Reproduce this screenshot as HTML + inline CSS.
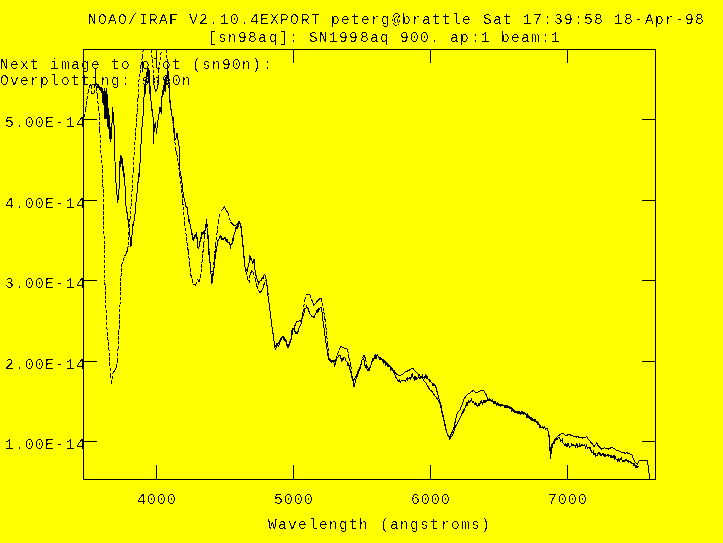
<!DOCTYPE html>
<html lang="en"><head><meta charset="utf-8"><title>NOAO/IRAF splot - sn98aq</title>
<style>
html,body{margin:0;padding:0;background:#ffff00;overflow:hidden}
svg{display:block;will-change:transform}
text{font-family:"Liberation Mono",monospace;font-size:14.6px;fill:#000;white-space:pre}
.ln{fill:none;stroke:#000;stroke-width:1;shape-rendering:crispEdges}
</style></head><body>
<svg width="723" height="543" viewBox="0 0 723 543">
<rect width="723" height="543" fill="#ffff00"/>
<defs><filter id="bw" x="0" y="0" width="100%" height="100%" filterUnits="userSpaceOnUse" color-interpolation-filters="sRGB"><feComponentTransfer><feFuncA type="discrete" tableValues="0 0 0 1 1"/></feComponentTransfer></filter><clipPath id="c"><rect x="83" y="49" width="573" height="431"/></clipPath></defs>

<rect class="ln" x="83.5" y="49.5" width="572.0" height="430.0"/>
<path class="ln" d="M156.5 49.5v13.5M156.5 479.5v-14.5M293.5 49.5v13.5M293.5 479.5v-14.5M430.5 49.5v13.5M430.5 479.5v-14.5M567.5 49.5v13.5M567.5 479.5v-14.5M83.5 119.5h13.5M655.5 119.5h-13.5M83.5 200.5h13.5M655.5 200.5h-13.5M83.5 280.5h13.5M655.5 280.5h-13.5M83.5 361.5h13.5M655.5 361.5h-13.5M83.5 441.5h13.5M655.5 441.5h-13.5"/>
<g clip-path="url(#c)">
<path class="ln" stroke-dasharray="3.3 1.6" d="M84.0 117.1L85.7 109.4M85.7 109.4L86.9 99.3M86.9 99.3L88.1 92.2M88.1 92.2L89.0 87.8M91.3 86.1L91.5 93.1M94.4 93.1L94.6 85.9M96.4 87.5L97.3 96.1M97.3 96.1L98.5 107.6M98.5 107.6L99.4 116.7M99.4 116.7L99.9 130.0M99.9 130.0L100.6 149.9M100.6 149.9L102.4 169.7M102.4 169.7L103.7 206.6M103.7 206.6L104.1 245.3M104.1 245.3L104.9 281.5M104.9 281.5L105.6 300.1M105.6 300.1L106.4 317.0M106.4 317.0L107.2 332.6M107.2 332.6L108.9 347.7M108.9 347.7L109.7 363.1M109.7 363.1L110.6 374.7M110.6 374.7L111.7 383.9M111.7 383.9L113.0 373.3M116.4 367.8L117.5 361.2M117.5 361.2L118.0 349.3M118.0 349.3L118.9 333.4M118.9 333.4L119.4 316.9M119.4 316.9L120.0 305.2M120.0 305.2L120.6 281.5M120.6 281.5L121.8 264.9M121.8 264.9L123.3 260.5M123.3 260.5L124.8 256.0M127.8 249.7L129.0 231.7M129.0 231.7L130.0 219.1M130.0 219.1L131.0 206.7M131.0 206.7L132.2 188.0M132.2 188.0L133.3 169.8M133.3 169.8L134.4 150.2M134.4 150.2L135.6 131.5M135.6 131.5L136.9 116.6M136.9 116.6L137.5 100.2M138.2 96.8L138.8 82.1M138.8 82.1L139.9 73.4M139.9 73.4L141.0 65.3M141.0 65.3L142.2 57.3M142.2 57.3L143.3 49.3M143.3 49.3L143.3 30.1M151.0 29.7L151.3 49.7M151.3 49.7L152.3 60.2M152.3 60.2L153.3 70.2M153.3 70.2L154.5 87.8M157.6 87.8L158.6 69.7M158.6 69.7L160.1 60.2M160.1 60.2L161.5 49.6M161.5 49.6L161.5 30.2M166.5 30.3L166.5 49.7M166.5 49.7L168.0 75.4M168.0 75.4L169.5 94.9M169.5 94.9L171.3 110.2M171.3 110.2L172.2 117.6M172.2 117.6L173.2 124.8M173.2 124.8L174.4 137.2M174.4 137.2L175.7 150.1M176.6 153.4L177.6 158.0M177.6 158.0L178.8 167.6M178.8 167.6L179.9 176.0M179.9 176.0L181.0 184.6M181.0 184.6L182.8 201.9M182.8 201.9L184.5 222.8M184.5 222.8L185.8 232.6M185.8 232.6L187.0 242.5M187.0 242.5L188.3 251.5M188.3 251.5L189.6 263.5M189.6 263.5L190.8 274.7M190.8 274.7L192.1 279.7M192.1 279.7L193.3 284.7M195.8 285.1L197.5 279.4M199.0 282.3L200.7 277.3M200.7 277.3L202.0 262.4M202.0 262.4L203.7 244.3M203.7 244.3L204.7 236.2M204.7 236.2L205.7 227.4M205.7 227.4L206.5 218.9M206.5 218.9L208.2 236.6M208.2 236.6L209.5 256.7M209.5 256.7L210.7 269.2M210.7 269.2L212.0 276.5M212.0 276.5L213.2 269.9M213.2 269.9L214.4 257.5M214.4 257.5L215.7 244.8M215.7 244.8L216.9 233.7M216.9 233.7L218.2 222.1M218.2 222.1L219.4 216.8M219.4 216.8L220.7 211.6M228.0 213.1L229.3 217.6M229.3 217.6L230.6 221.8M241.0 225.5L242.0 235.3M242.0 235.3L243.0 244.6M243.0 244.6L244.0 258.3M244.0 258.3L245.8 271.4M245.8 271.4L247.5 278.2M247.5 278.2L249.0 283.0M249.0 283.0L250.0 274.7M253.3 272.0L255.0 278.3M255.0 278.3L256.6 285.4M256.6 285.4L258.3 290.2M264.0 284.5L265.7 280.0M265.7 280.0L267.4 286.5M267.4 286.5L269.0 303.3M269.0 303.3L270.2 312.7M270.2 312.7L271.5 323.0M271.5 323.0L272.9 332.8M272.9 332.8L274.4 343.3M291.0 340.1L292.2 334.9M292.2 334.9L293.5 329.9M301.0 321.3L302.7 314.8M303.0 311.8L304.7 299.8M304.7 299.8L306.4 294.7M309.7 294.5L311.4 299.0M321.0 298.3L322.2 303.2M322.2 303.2L323.8 311.6M323.8 311.6L324.9 318.7M324.9 318.7L325.9 326.5M325.9 326.5L327.6 343.3M327.6 343.3L328.4 353.1M328.4 353.1L329.2 358.6M335.9 359.6L337.5 354.2M337.5 354.2L339.2 349.3M347.5 349.5L349.0 357.8M349.0 357.8L350.8 366.1M350.8 366.1L352.5 376.9M352.5 376.9L353.6 381.6M353.6 381.6L355.0 377.6M360.0 366.9L361.2 362.5M361.2 362.5L362.4 358.2M365.7 358.7L366.9 366.5M370.7 366.3L372.4 361.0"/>
<path class="ln" d="M89.0 87.8L90.3 84.5L91.3 86.1M91.5 93.1L93.0 93.4L94.4 93.1M94.6 85.9L95.5 84.9L96.4 87.5M113.0 373.3L114.7 370.2L116.4 367.8M124.8 256.0L126.3 253.1L127.8 249.7M137.5 100.2L138.2 96.8M143.3 30.1L144.6 30.5L145.9 29.7L147.2 30.4L148.4 29.5L149.7 29.8L151.0 29.7M154.5 87.8L156.0 91.4L157.6 87.8M161.5 30.2L162.8 30.2L164.0 30.5L165.2 30.0L166.5 30.3M175.7 150.1L176.6 153.4M193.3 284.7L194.6 284.3L195.8 285.1M197.5 279.4L199.0 282.3M220.7 211.6L221.9 209.9L223.2 208.9L224.4 206.7L225.6 209.0L226.8 211.3L228.0 213.1M230.6 221.8L231.9 223.5L233.1 224.5L234.4 225.8L235.7 225.5L237.0 224.0L238.2 223.4L239.4 222.1L241.0 225.5M250.0 274.7L251.6 271.1L253.3 272.0M258.3 290.2L260.0 292.7L261.6 291.0L262.8 288.3L264.0 284.5M274.4 343.3L276.0 347.1L277.3 345.6L278.6 342.8L279.8 340.2L281.0 338.2L282.3 337.2L283.6 336.1L284.8 339.4L286.0 341.6L287.2 344.5L288.5 346.7L289.8 343.5L291.0 340.1M293.5 329.9L294.8 326.1L296.0 322.8L297.2 321.2L298.5 321.2L299.8 320.7L301.0 321.3M302.7 314.8L303.0 311.8M306.4 294.7L308.0 293.9L309.7 294.5M311.4 299.0L312.6 301.9L313.9 305.1L315.1 303.8L316.3 302.4L317.6 300.9L318.8 299.6L319.9 298.6L321.0 298.3M329.2 358.6L330.4 359.8L331.7 361.0L332.9 360.8L334.2 361.2L335.9 359.6M339.2 349.3L340.8 346.2L342.1 346.9L343.3 347.7L344.6 348.1L345.8 348.5L347.5 349.5M355.0 377.6L356.2 376.0L357.5 372.6L358.8 369.6L360.0 366.9M362.4 358.2L364.0 355.5L365.7 358.7M366.9 366.5L367.9 367.7L369.0 369.5L370.7 366.3M372.4 361.0L373.6 359.6L374.9 358.3L376.1 356.6L377.4 354.8L378.6 356.5L379.8 358.0L381.1 358.1L382.4 359.1L383.6 360.2L384.9 361.7L386.1 363.2L387.4 363.9L388.6 364.8L389.9 365.7L391.1 367.2L392.4 368.7L393.5 370.6L394.6 372.0L395.7 373.3L396.8 374.1L397.9 375.1L399.0 375.8L400.1 375.5L401.2 375.0L402.3 374.6L403.4 373.8L404.5 372.2L405.6 371.4L407.0 371.2L408.4 370.6L409.8 369.9L410.9 369.1L411.9 368.9L413.0 368.5L414.3 370.1L415.6 371.4L416.7 372.8L417.9 374.1L419.0 374.5L420.1 376.0L421.1 377.2L422.2 377.9L423.3 379.7L424.5 381.8L425.6 382.5L426.7 384.7L427.8 386.0L428.9 388.3L430.0 389.8L431.1 390.8L432.2 391.8L433.3 393.7L434.4 395.0L435.5 396.6L436.8 398.1L438.0 399.8L439.2 402.5L440.5 404.7L441.4 409.7L442.4 415.2L443.7 419.9L445.0 425.8L446.2 429.6L447.4 434.2L448.5 435.2L449.6 437.7L450.6 435.4L451.6 433.5L452.8 430.4L454.0 427.2L455.7 419.3L457.4 412.9L458.6 411.3L459.9 410.0L461.1 407.1L462.4 404.5L464.0 398.7L465.2 397.2L466.5 395.3L467.6 394.4L468.7 393.5L469.8 393.5L470.9 392.3L472.1 391.2L473.2 390.3L474.3 391.5L475.4 392.1L476.5 392.5L477.8 392.0L479.0 391.7L480.2 390.6L481.5 390.7L482.8 390.3L484.0 390.8L485.2 393.1L486.4 395.2L488.0 399.9L489.2 400.0L490.5 400.5L491.8 400.4L493.0 401.3L494.1 401.7L495.3 403.0L496.4 403.3L497.5 403.7L498.6 403.9L499.7 404.3L500.8 404.4L501.9 404.4L503.0 405.4L504.1 405.2L505.2 405.5L506.3 405.8L507.4 406.5L508.6 406.9L509.7 407.6L510.8 408.3L511.9 408.6L513.0 409.7L514.2 410.9L515.5 411.4L516.6 412.1L517.7 412.2L518.8 412.1L519.9 411.7L520.9 412.6L522.0 412.6L523.1 412.3L524.3 412.7L525.4 414.0L526.7 414.9L528.0 415.8L529.1 416.4L530.1 417.3L531.2 418.2L532.3 419.3L533.5 419.4L534.6 419.8L535.7 421.3L536.8 422.0L537.9 422.2L539.0 424.3L540.1 425.5L541.2 427.1L542.3 427.2L543.4 427.7L544.5 427.8L545.6 428.4L546.7 428.4L547.8 429.5L549.2 436.4L550.3 450.2L551.0 452.9L552.6 445.2L553.8 442.4L555.0 439.6L556.3 437.9L557.6 436.1L558.7 435.7L559.8 434.4L560.9 434.0L562.1 433.2L563.4 433.2L564.6 434.4L565.9 435.7L567.0 435.7L568.1 434.4L569.2 434.8L570.3 434.9L571.4 435.4L572.5 435.9L573.6 436.3L574.7 436.1L575.8 436.4L576.9 437.2L578.1 436.6L579.2 437.4L580.3 437.7L581.4 437.3L582.5 438.1L583.9 437.7L585.2 437.4L586.6 436.3L587.8 438.6L589.0 439.8L590.3 441.4L591.6 443.4L592.8 444.3L594.0 446.7L595.3 444.9L596.6 442.8L597.8 445.1L599.0 446.4L600.3 447.7L601.6 449.0L602.7 448.9L603.8 448.0L604.9 447.9L606.0 448.3L607.1 448.7L608.2 449.3L609.3 448.2L610.4 448.2L611.5 447.2L612.6 447.9L613.7 448.2L614.8 449.0L615.9 450.0L617.1 450.2L618.2 450.9L619.3 451.0L620.4 451.6L621.5 452.1L622.9 452.6L624.2 452.9L625.6 453.3L627.0 452.7L628.4 453.5L629.8 453.8L630.9 454.5L632.0 455.1L633.0 457.9L633.9 460.1L635.6 462.7L637.2 464.3L638.2 462.4L639.2 460.8L640.7 460.6L642.2 460.4L643.3 460.2L644.4 460.3L645.5 460.3L646.5 460.6L647.5 460.7L648.5 468.2L649.7 478.7"/>
<polyline class="ln" points="95.0,84.0 95.3,68.0 95.8,81.7 96.4,84.4 97.0,84.5 97.5,87.5 98.0,85.3 98.5,88.1 99.0,85.8 99.5,89.7 100.0,86.7 100.5,90.9 101.0,87.4 101.5,93.1 102.0,87.3 102.5,102.9 103.0,91.0 103.6,105.3 104.1,88.5 104.6,119.4 105.2,91.4 105.7,118.9 106.2,88.3 106.7,119.0 107.2,94.0 107.8,126.5 108.3,107.9 108.8,128.5 109.3,115.2 109.8,139.4 110.2,127.3 110.6,141.7 111.0,139.7 111.4,133.0 111.8,129.0 112.2,117.8 112.7,107.1 113.2,114.6 113.8,123.0 114.3,128.1 114.5,150.4 115.0,161.4 115.4,174.4 115.9,180.3 116.4,189.7 116.8,192.6 117.3,197.6 117.8,202.5 118.3,197.1 118.8,194.2 119.3,182.4 119.6,174.1 120.0,161.1 120.4,166.8 121.0,155.5 121.6,163.9 122.2,157.9 122.8,171.0 123.3,166.4 123.8,176.9 124.2,173.1 124.6,182.2 125.1,186.5 125.5,199.6 126.0,206.0 126.5,212.6 127.0,212.3 127.5,220.1 128.0,218.7 128.5,227.0 129.0,227.5 129.5,235.8 130.0,237.0 130.5,246.5 131.0,246.0 131.4,245.9 131.9,235.2 132.4,234.0 132.8,224.5 133.3,226.2 133.8,223.5 134.3,218.4 134.8,215.6 135.3,211.1 135.8,202.5 136.3,201.1 136.8,193.6 137.3,191.8 137.8,182.7 138.2,182.6 138.7,174.5 139.1,175.1 139.6,164.3 140.1,162.5 140.6,146.4 141.0,144.4 141.5,132.9 141.9,129.2 142.4,121.0 143.0,116.7 143.4,102.5 143.8,100.8 144.2,93.7 144.6,95.5 145.1,83.0 145.6,94.1 146.1,76.5 146.6,83.2 147.1,70.1 147.5,77.1 148.0,68.1 148.7,82.5 149.1,69.8 149.5,93.6 149.9,80.8 150.3,98.8 150.7,96.6 151.3,104.3 151.9,109.9 152.3,109.7 152.8,116.7 153.2,117.4 153.5,144.4 153.9,134.3 154.4,125.7 154.8,125.0 155.3,123.5 155.7,121.7 156.3,134.4 156.8,129.8 157.3,125.2 157.8,122.3 158.3,118.1 158.8,115.3 159.4,111.9 160.0,107.5 160.4,109.9 160.9,111.3 161.3,113.6 161.5,100.4 162.0,95.7 162.5,97.3 163.0,89.9 163.5,95.0 164.0,85.4 164.5,91.0 165.0,78.8 165.5,92.0 166.0,76.8 166.5,85.3 167.0,74.8 167.5,78.6 168.0,71.3 168.5,73.6 169.2,84.6 169.6,96.1 170.2,106.3 170.7,107.9 171.3,111.6 171.8,114.8 172.2,117.1 172.7,119.9 173.2,117.0 173.8,129.6 174.4,128.1 175.0,140.2 175.5,138.3 176.0,137.8 176.5,134.8 177.0,133.4 177.6,134.7 178.2,142.4 178.8,139.6 179.4,157.0 180.0,171.0 180.5,175.3 181.0,176.2 181.5,181.6 182.0,183.0 182.4,188.3 182.9,190.9 183.3,194.0 183.8,196.9 184.3,199.3 184.8,201.0 185.3,202.8 185.9,206.2 186.4,206.7 187.0,207.4 187.5,210.2 188.1,216.2 188.6,220.8 189.2,220.0 189.7,221.7 190.2,225.8 190.8,227.2 191.4,231.5 192.0,234.4 192.4,233.0 192.9,240.3 193.3,237.0 193.8,240.7 194.3,235.4 194.8,239.3 195.3,234.5 195.8,237.0 196.4,232.5 197.0,238.6 197.4,238.1 197.9,247.1 198.3,248.3 198.9,248.9 199.4,241.3 199.8,244.5 200.3,237.9 200.7,241.5 201.1,236.2 201.6,239.3 202.0,232.2 202.6,234.7 203.2,230.7 203.8,233.8 204.4,230.2 204.8,233.3 205.3,227.7 205.7,229.9 206.1,222.6 206.5,225.8 207.1,228.8 207.6,232.4 208.3,242.8 208.9,254.1 209.5,259.9 210.0,263.3 210.5,267.4 211.0,274.1 211.5,277.0 212.0,283.5 212.4,277.5 212.9,276.2 213.3,273.8 213.9,268.6 214.4,265.4 214.9,259.8 215.4,256.2 216.0,252.1 216.5,249.0 217.0,245.8 217.5,242.5 218.0,239.7 218.4,240.6 218.9,239.9 219.4,236.0 219.9,238.9 220.4,236.4 220.9,235.6 221.5,237.4 222.0,239.9 222.5,238.5 223.0,238.6 223.5,238.9 224.0,239.4 224.5,238.4 225.0,237.1 225.5,240.5 226.0,239.0 226.5,240.2 227.0,238.9 227.5,241.5 228.0,242.6 228.5,242.4 229.1,242.7 229.6,244.1 230.1,244.8 230.6,248.9 231.1,243.0 231.6,244.3 232.0,243.8 232.5,239.1 233.0,239.8 233.5,240.4 234.0,235.1 234.6,234.5 235.1,231.5 235.6,228.0 236.1,226.7 236.6,227.0 237.0,228.7 237.5,224.2 238.0,226.9 238.5,220.8 239.0,222.6 239.5,223.7 240.0,223.5 240.4,223.5 240.9,227.3 241.3,230.1 241.9,235.1 242.4,241.4 243.0,247.0 243.5,252.4 244.0,255.8 244.5,259.7 245.0,267.2 245.5,267.8 246.1,269.4 246.6,269.2 247.1,271.8 247.6,270.3 248.0,266.8 248.5,263.4 249.0,263.2 249.4,260.1 249.9,255.4 250.4,258.9 250.8,258.0 251.3,258.6 251.9,259.5 252.4,264.1 252.9,261.6 253.5,262.0 254.0,258.9 254.4,266.2 254.9,269.6 255.4,271.5 255.8,274.7 256.3,276.6 256.8,276.8 257.3,281.5 257.8,280.3 258.3,282.4 258.8,285.0 259.3,281.4 259.7,282.2 260.2,280.9 260.7,280.7 261.2,280.3 261.7,279.3 262.2,277.1 262.7,278.4 263.2,277.6 263.6,278.0 264.1,274.1 264.6,274.6 265.0,274.6 265.5,278.2 266.1,279.4 266.6,282.9 267.1,286.6 267.6,292.3 268.0,295.5 268.5,298.7 269.0,303.2 269.5,308.2 270.0,310.5 270.5,315.1 271.0,318.6 271.5,323.2 272.0,326.5 272.6,331.2 273.1,333.4 273.6,337.2 274.2,343.1 274.7,346.7 275.3,349.4 275.9,348.5 276.4,346.4 277.0,343.0 277.5,344.5 278.1,345.0 278.6,346.1 279.2,344.4 279.7,343.5 280.3,339.9 280.8,341.8 281.3,338.3 281.7,339.2 282.2,337.2 282.7,336.8 283.2,337.7 283.7,337.8 284.2,340.9 284.7,339.9 285.2,339.9 285.7,341.4 286.2,339.6 286.7,344.2 287.2,346.7 287.7,347.2 288.3,343.7 288.8,345.2 289.4,344.7 289.9,341.7 290.5,339.7 291.0,340.6 291.4,337.4 291.9,331.5 292.4,332.2 292.9,328.5 293.4,329.0 293.9,328.3 294.4,328.7 295.0,331.5 295.6,333.4 296.1,333.3 296.6,332.6 297.2,331.3 297.7,332.8 298.2,331.8 298.7,331.8 299.2,326.4 299.7,327.2 300.2,325.8 300.7,324.6 301.2,323.5 301.7,320.0 302.2,318.8 302.7,315.8 303.2,315.2 303.7,315.8 304.2,310.8 304.7,309.0 305.3,308.4 305.8,308.4 306.4,306.2 306.9,307.2 307.5,308.2 308.0,308.1 308.6,311.5 309.1,311.6 309.7,314.0 310.2,314.4 310.7,315.0 311.2,315.4 311.7,316.4 312.2,316.1 312.7,316.4 313.2,317.0 313.7,316.0 314.2,315.9 314.7,317.0 315.2,313.0 315.7,313.6 316.2,312.1 316.7,310.8 317.2,312.2 317.7,309.8 318.2,308.3 318.7,311.6 319.2,309.1 319.7,308.7 320.2,307.1 320.8,307.1 321.3,308.3 321.7,309.3 322.2,313.5 322.6,317.2 323.1,322.2 323.7,325.6 324.2,329.2 324.8,334.2 325.3,339.3 325.9,341.9 326.5,346.8 327.0,348.8 327.6,353.9 328.0,355.7 328.4,359.6 328.9,359.6 329.4,360.9 329.9,360.9 330.4,360.9 330.9,361.8 331.4,362.3 331.9,360.8 332.4,361.1 332.9,361.2 333.4,361.9 333.9,362.2 334.5,365.6 335.0,364.8 335.6,363.1 336.1,360.4 336.7,358.5 337.2,357.8 337.8,357.8 338.3,355.4 338.9,355.1 339.4,355.7 340.0,355.5 340.6,358.4 341.1,358.8 341.7,361.2 342.2,360.5 342.7,358.9 343.2,358.0 343.7,359.1 344.2,357.4 344.7,357.3 345.2,358.4 345.6,359.2 346.1,361.2 346.6,361.7 347.1,362.1 347.6,364.3 348.0,363.1 348.5,365.2 349.0,365.1 349.4,366.9 349.9,368.8 350.4,372.1 350.8,372.6 351.4,374.2 351.9,377.2 352.5,380.5 353.0,380.8 353.5,383.7 354.0,386.6 354.4,385.1 354.9,383.2 355.4,382.9 355.8,379.8 356.3,378.3 356.8,375.7 357.3,376.0 357.8,375.1 358.3,372.8 358.8,371.6 359.3,370.9 359.8,369.5 360.3,367.6 360.8,366.1 361.3,364.0 361.9,360.2 362.4,359.5 362.9,359.9 363.3,359.2 363.9,358.7 364.4,363.0 365.0,365.5 365.5,365.9 366.0,368.2 366.5,367.5 367.0,369.1 367.5,369.8 368.0,369.1 368.5,370.5 369.0,370.5 369.4,369.9 369.9,367.8 370.4,367.6 370.8,365.7 371.3,363.7 371.9,361.8 372.4,358.2 372.9,361.1 373.4,360.7 374.0,358.3 374.5,356.2 375.0,357.7 375.5,358.5 376.0,354.4 376.4,359.1 376.9,355.3 377.4,355.2 377.9,355.6 378.4,357.4 379.0,358.2 379.5,358.5 380.0,359.4 380.5,358.4 381.0,360.1 381.4,359.2 381.9,359.6 382.4,361.2 382.9,360.8 383.4,361.9 383.9,363.6 384.4,361.3 384.9,363.0 385.4,361.5 385.9,365.6 386.4,362.6 386.9,362.8 387.4,364.4 387.9,366.9 388.4,366.1 388.9,364.1 389.4,366.7 389.9,366.0 390.4,366.5 390.9,370.2 391.4,369.2 391.9,370.0 392.4,370.7 392.9,370.3 393.4,372.5 393.9,372.6 394.4,371.5 394.9,374.7 395.4,377.1 395.9,376.4 396.3,378.9 396.8,378.4 397.3,380.1 397.8,380.3 398.3,380.6 398.8,381.2 399.3,379.9 399.8,381.0 400.3,382.4 400.8,381.3 401.3,380.1 401.8,380.3 402.3,380.3 402.8,380.7 403.3,380.6 403.8,380.8 404.3,380.8 404.8,380.5 405.3,381.4 405.8,381.1 406.3,378.7 406.8,378.5 407.3,379.5 407.8,377.9 408.3,378.5 408.8,378.2 409.3,378.5 409.8,377.6 410.3,379.8 410.8,377.8 411.3,377.4 411.8,374.7 412.3,374.0 412.9,376.6 413.4,378.0 414.0,378.0 414.5,379.3 415.0,375.9 415.4,379.5 415.9,380.1 416.4,377.2 416.9,379.1 417.4,378.6 418.0,377.8 418.5,376.0 419.0,376.6 419.5,377.9 420.0,378.5 420.4,377.1 420.9,378.6 421.4,375.6 421.9,378.4 422.4,374.5 423.0,377.0 423.5,377.7 424.0,378.0 424.5,378.5 425.0,376.5 425.4,375.4 425.9,377.6 426.4,376.5 426.9,378.5 427.4,377.5 427.9,378.8 428.4,379.3 428.9,380.0 429.4,379.5 429.9,382.2 430.4,380.5 430.9,381.6 431.4,382.8 431.9,382.6 432.4,384.5 432.9,383.2 433.4,383.2 433.9,385.2 434.4,385.2 434.9,384.5 435.3,385.5 435.8,386.8 436.3,388.5 436.9,391.0 437.4,393.4 438.0,394.9 438.6,398.5 439.1,398.9 439.7,400.4 440.2,402.6 440.8,404.7 441.3,406.3 441.8,410.4 442.3,411.2 442.8,413.4 443.3,417.2 443.8,418.9 444.3,420.8 444.8,422.8 445.3,425.7 445.8,428.9 446.3,430.6 446.9,432.3 447.4,435.3 447.9,435.6 448.4,435.3 449.0,437.4 449.5,438.0 450.0,439.5 450.5,437.6 451.0,436.2 451.4,436.6 451.9,437.0 452.4,434.3 452.9,434.4 453.4,432.1 453.9,431.1 454.4,429.4 454.9,427.5 455.4,427.7 455.9,425.8 456.4,425.2 456.9,424.4 457.4,422.2 457.9,422.5 458.4,421.3 458.9,419.9 459.4,418.7 459.9,418.3 460.4,417.4 460.9,415.9 461.4,415.2 461.9,414.1 462.4,411.8 462.9,413.0 463.4,412.0 463.9,409.1 464.4,411.0 464.9,408.0 465.4,406.1 466.0,405.4 466.5,404.8 467.0,402.3 467.5,404.4 468.0,403.0 468.5,401.8 469.0,403.1 469.6,401.2 470.1,401.3 470.7,400.8 471.2,400.1 471.7,398.6 472.2,402.5 472.7,402.5 473.2,402.7 473.7,401.8 474.2,403.4 474.6,404.1 475.1,402.3 475.6,404.6 476.1,405.2 476.6,404.2 477.0,405.6 477.5,406.2 478.0,405.4 478.5,403.6 479.0,406.0 479.6,404.7 480.1,403.2 480.6,403.0 481.1,400.8 481.6,402.3 482.0,401.9 482.5,403.5 483.0,402.3 483.5,401.3 484.0,402.8 484.5,401.8 484.9,400.6 485.4,400.6 485.9,403.0 486.4,400.2 486.9,400.2 487.4,400.5 487.9,399.9 488.3,400.7 488.8,400.8 489.3,400.8 489.8,398.7 490.3,399.4 490.9,399.4 491.4,401.7 491.9,401.3 492.5,399.2 493.0,401.9 493.5,402.7 494.0,402.0 494.5,402.6 494.9,403.9 495.4,401.2 495.9,403.7 496.4,404.7 496.9,405.6 497.3,404.1 497.8,402.7 498.3,404.7 498.8,403.4 499.2,404.4 499.7,405.6 500.2,404.0 500.6,406.3 501.1,405.8 501.6,405.6 502.1,405.5 502.5,404.9 503.0,405.9 503.5,405.9 503.9,405.2 504.4,405.8 504.9,408.0 505.4,406.0 505.8,407.1 506.3,406.4 506.8,407.1 507.3,407.1 507.8,405.7 508.2,407.4 508.7,407.0 509.2,408.0 509.7,406.9 510.2,408.9 510.6,407.8 511.1,407.4 511.6,409.8 512.1,408.2 512.5,410.8 513.0,411.0 513.5,410.0 514.0,411.9 514.5,410.3 515.0,412.9 515.5,412.5 516.0,412.9 516.4,412.3 516.9,412.8 517.4,413.2 517.9,411.5 518.3,411.9 518.8,413.1 519.3,413.5 519.9,412.5 520.4,412.8 520.9,414.4 521.5,411.3 522.0,410.8 522.5,414.0 523.0,413.9 523.5,414.2 523.9,412.0 524.4,413.9 524.9,413.7 525.4,413.9 525.9,414.9 526.4,415.9 527.0,417.7 527.5,414.2 528.0,415.5 528.5,415.7 529.1,418.6 529.6,417.1 530.1,418.4 530.7,419.0 531.2,416.9 531.7,420.2 532.2,420.2 532.7,419.2 533.1,419.5 533.6,419.8 534.1,420.7 534.6,420.8 535.1,421.6 535.5,420.2 536.0,420.9 536.5,422.0 537.0,422.4 537.4,422.0 537.9,424.2 538.4,423.9 538.8,424.9 539.3,425.3 539.8,427.0 540.3,425.8 540.7,426.6 541.2,428.0 541.7,427.9 542.1,426.3 542.6,427.2 543.1,428.2 543.6,428.1 544.0,427.6 544.5,427.1 545.0,428.1 545.4,429.2 545.9,429.5 546.4,428.8 546.9,428.6 547.3,429.3 547.8,428.6 548.4,433.9 549.0,437.3 549.6,444.8 550.1,452.0 550.6,459.3 551.2,451.9 551.8,444.9 552.3,445.0 552.9,443.0 553.4,443.5 553.9,441.4 554.4,442.6 555.0,440.3 555.5,440.5 556.0,440.0 556.5,438.0 557.0,438.6 557.4,439.1 557.9,438.1 558.4,437.3 558.9,437.6 559.4,438.1 559.9,439.1 560.4,439.2 560.9,441.1 561.4,440.9 561.9,440.8 562.4,439.8 562.9,442.5 563.4,443.7 563.9,443.1 564.3,445.3 564.8,445.6 565.3,445.3 565.8,444.1 566.2,446.9 566.7,445.6 567.2,443.1 567.6,446.5 568.1,443.7 568.6,443.9 569.1,446.4 569.5,447.1 570.0,445.8 570.5,446.6 570.9,446.5 571.4,443.6 571.9,445.5 572.4,445.7 572.8,443.9 573.3,445.6 573.8,444.5 574.3,445.4 574.8,445.2 575.2,447.0 575.7,445.6 576.2,445.3 576.7,443.9 577.2,444.9 577.6,447.6 578.1,446.1 578.6,446.7 579.1,446.6 579.5,444.2 580.0,445.1 580.5,445.2 580.9,446.7 581.4,444.6 581.9,445.0 582.4,445.0 582.8,444.6 583.3,445.4 583.8,445.8 584.2,444.9 584.7,445.1 585.2,446.3 585.7,448.1 586.1,446.6 586.6,445.3 587.1,447.2 587.6,448.0 588.1,447.6 588.5,447.7 589.0,447.1 589.5,448.0 590.0,446.8 590.5,449.1 591.0,450.8 591.4,450.4 591.9,452.2 592.4,452.3 592.9,452.3 593.4,451.5 594.0,454.6 594.5,454.5 595.0,452.9 595.5,456.3 596.1,455.6 596.6,455.5 597.1,455.4 597.7,453.3 598.2,453.3 598.7,452.5 599.2,454.5 599.7,453.3 600.1,455.9 600.6,453.1 601.1,454.8 601.6,455.6 602.1,454.4 602.5,453.8 603.0,452.9 603.5,455.5 604.0,455.2 604.4,455.9 604.9,453.7 605.4,456.1 605.8,455.0 606.3,455.3 606.8,455.1 607.3,454.2 607.7,454.6 608.2,456.1 608.7,454.9 609.1,455.5 609.6,455.8 610.1,456.3 610.6,457.4 611.0,455.5 611.5,456.9 612.0,456.2 612.4,457.0 612.9,456.6 613.4,455.8 613.9,457.2 614.3,456.4 614.8,459.7 615.3,457.0 615.8,458.2 616.3,459.4 616.8,459.0 617.3,461.2 617.8,459.6 618.2,458.2 618.7,460.9 619.2,459.4 619.7,462.3 620.1,458.8 620.6,459.2 621.1,459.8 621.6,458.5 622.1,460.5 622.5,461.3 623.0,461.6 623.5,460.3 624.0,459.7 624.5,461.4 624.9,461.4 625.4,459.9 625.9,459.7 626.4,459.5 626.8,460.8 627.3,460.6 627.8,461.6 628.2,462.0 628.7,459.8 629.2,461.6 629.7,461.6 630.1,460.9 630.6,461.6 631.1,463.5 631.6,462.5 632.0,462.9 632.5,463.1 633.0,464.3 633.5,463.9 634.0,465.5 634.6,464.2 635.1,465.2 635.6,466.8 636.1,467.8 636.6,465.8 637.0,466.5 637.5,467.1 638.0,466.1 638.6,466.2 639.2,465.5"/>
</g>
<g filter="url(#bw)">
<text transform="translate(0 24.25) scale(1 1.042)" x="88 98 108 118 128 139 149 159 169 179 189 199 209 220 230 240 250 260 270 280 290 301 311 321 331 341 351 361 371 381 392 402 412 422 432 442 452 462 473 483 493 503 513 523 533 543 554 564 574 584 594 604 614 624 634 645 655 665 675 685 695" y="0">NOAO/IRAF V2.10.4EXPORT peterg@brattle Sat 17:39:58 18-Apr-98</text>
<text transform="translate(0 42.25) scale(1 1.042)" x="208 218 228 238 248 258 269 279 289 299 309 319 329 339 349 360 370 380 390 400 410 420 430 440 450 460 471 481 491 501 511 521 531 541 551" y="0">[sn98aq]: SN1998aq 900. ap:1 beam:1</text>
<text transform="translate(0 69.25) scale(1 1.042)" x="0 10 20 30 40 50 61 71 81 91 101 111 121 131 141 152 162 172 182 192 202 212 222 232 242 252 263" y="0">Next image to plot (sn90n):</text>
<text transform="translate(0 85.25) scale(1 1.042)" x="0 10 20 30 40 50 61 71 81 91 101 111 121 131 141 152 162 172 182" y="0">Overplotting: sn90n</text>
<text transform="translate(0 127.25) scale(1 1.042)" x="5 15 25 35 45 55 66 76" y="0">5.00E-14</text>
<text transform="translate(0 208.25) scale(1 1.042)" x="5 15 25 35 45 55 66 76" y="0">4.00E-14</text>
<text transform="translate(0 288.25) scale(1 1.042)" x="5 15 25 35 45 55 66 76" y="0">3.00E-14</text>
<text transform="translate(0 369.25) scale(1 1.042)" x="5 15 25 35 45 55 66 76" y="0">2.00E-14</text>
<text transform="translate(0 449.25) scale(1 1.042)" x="5 15 25 35 45 55 66 76" y="0">1.00E-14</text>
<text transform="translate(0 504.25) scale(1 1.042)" x="137 147 157 167" y="0">4000</text>
<text transform="translate(0 504.25) scale(1 1.042)" x="274 284 294 304" y="0">5000</text>
<text transform="translate(0 504.25) scale(1 1.042)" x="411 421 431 441" y="0">6000</text>
<text transform="translate(0 504.25) scale(1 1.042)" x="548 558 568 578" y="0">7000</text>
<text transform="translate(0 529.25) scale(1 1.042)" x="268 278 288 298 309 319 329 339 349 359 370 380 390 400 410 420 430 441 451 461 471 481" y="0">Wavelength (angstroms)</text>
</g>
</svg></body></html>
